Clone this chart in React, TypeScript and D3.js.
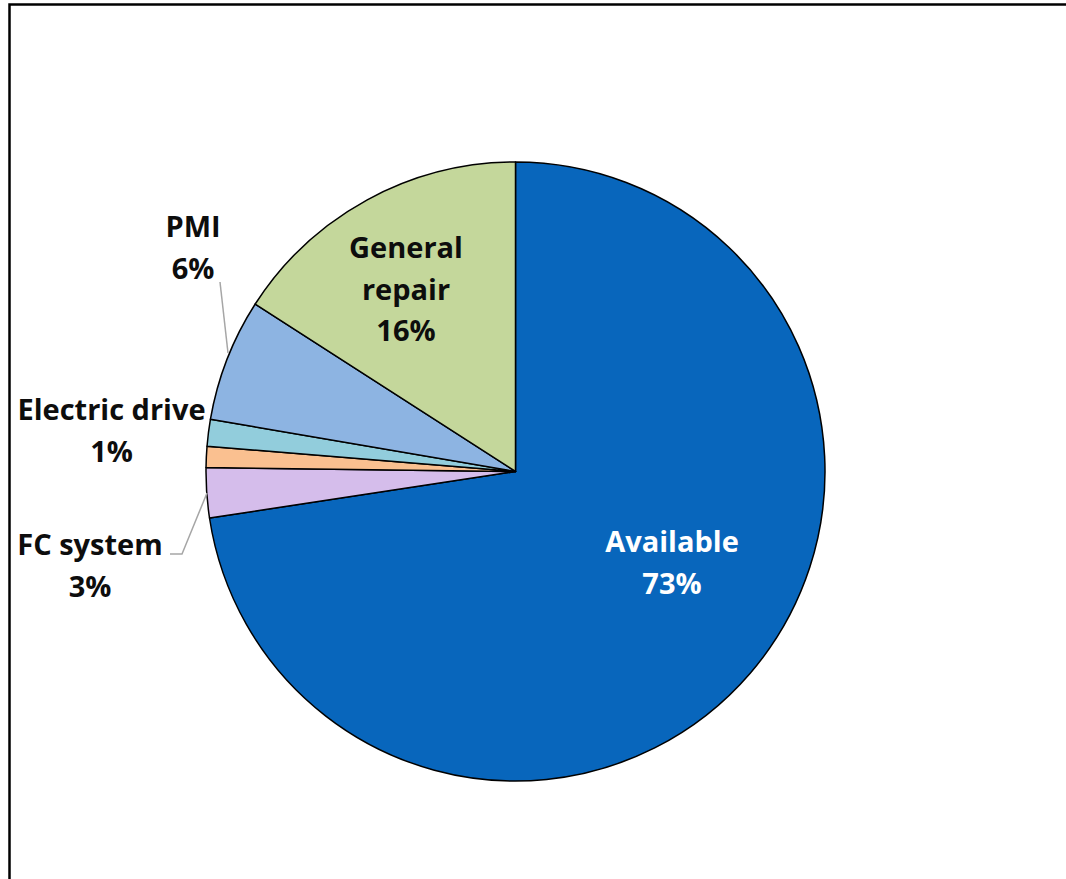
import React from "react";
import * as d3 from "d3";

const categories = ["Available", "FC system", "Other", "Electric drive", "PMI", "General repair"];
const values = [72.6, 2.6, 1.1, 1.4, 6.4, 15.9];
const colors = ["#0866BC", "#D5BDEB", "#FAC090", "#92CDDC", "#8DB4E2", "#C4D79B"];
const labelLines: string[][] = [["Available"], ["FC system"], [], ["Electric drive"], ["PMI"], ["General", "repair"]];

const W = 1066;
const H = 879;
const cx = 515.5;
const cy = 471.5;
const R = 309.5;
const FONT = "'Open Sans', 'Noto Sans', sans-serif";
const FS = 29;
const LH = 41.5;

// label anchor (center x, first baseline y) relative to pie center
const labelAnchor: Record<string, [number, number]> = {
  "Available": [156.5, 80.5],
  "FC system": [-425.5, 83.5],
  "Electric drive": [-404, -51.5],
  "PMI": [-322.5, -234.5],
  "General repair": [-109.5, -213.5],
};
const leaders: Record<string, [number, number][]> = {
  "FC system": [[-345.5, 82.5], [-333.5, 82.5], [-308.5, 21.5]],
  "PMI": [[-295.5, -189.5], [-287.5, -118.5]],
};

export default function App() {
  const total = d3.sum(values);
  const pie = d3.pie<number>().sort(null).startAngle(0).endAngle(2 * Math.PI).value((d) => d);
  const arcs = pie(values);
  const arc = d3.arc<d3.PieArcDatum<number>>().innerRadius(0).outerRadius(R);
  const line = d3.line();

  return (
    <svg
      width={W}
      height={H}
      style={{ position: "absolute", left: 0, top: 0, background: "#fff" }}
      fontFamily={FONT}
    >
      <rect x={0} y={0} width={W} height={H} fill="#fff" />
      <path d={`M9.5,${H + 5} L9.5,4.5 L${W + 5},4.5`} fill="none" stroke="#000" strokeWidth={2.5} />
      <g transform={`translate(${cx},${cy})`}>
        {arcs.map((a, i) => (
          <path key={categories[i]} d={arc(a) || ""} fill={colors[i]} stroke="#000" strokeWidth={1.5} strokeLinejoin="round" />
        ))}
        {categories.map((c) =>
          leaders[c] ? (
            <path key={c + "-l"} d={line(leaders[c]) || ""} fill="none" stroke="#A6A6A6" strokeWidth={1.5} />
          ) : null
        )}
        {categories.map((c, i) => {
          const anc = labelAnchor[c];
          if (!anc || labelLines[i].length === 0) return null;
          const pct = Math.round((values[i] / total) * 100) + "%";
          const lines = [...labelLines[i], pct];
          return (
            <text
              key={c + "-t"}
              x={anc[0]}
              y={anc[1]}
              textAnchor="middle"
              fontSize={FS}
              fontWeight="bold"
              fill={i === 0 ? "#fff" : "#0D0D0D"}
            >
              {lines.map((t, k) => (
                <tspan key={k} x={anc[0]} y={anc[1] + k * LH}>
                  {t}
                </tspan>
              ))}
            </text>
          );
        })}
      </g>
    </svg>
  );
}
